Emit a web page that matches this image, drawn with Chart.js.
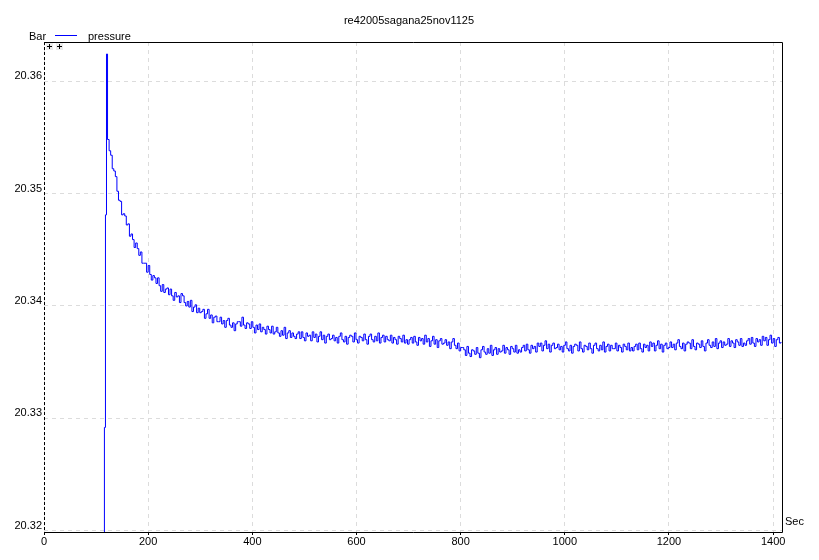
<!DOCTYPE html>
<html>
<head>
<meta charset="utf-8">
<script src="https://cdn.jsdelivr.net/npm/chart.js@4"></script>
<style>
  html, body { margin: 0; background: #fff; }
</style>
</head>
<body>
<canvas id="chart" width="819" height="560"></canvas>
<script>
const chartTitle = 're42005sagana25nov1125';
const seriesName = 'pressure';
const yUnit = 'Bar';
const xUnit = 'Sec';

const xTicks = [0, 200, 400, 600, 800, 1000, 1200, 1400];
const yTicks = [20.32, 20.33, 20.34, 20.35, 20.36];

// the jump when logging starts
const startTimes = [114, 116, 118, 120];
const startValues = [20.3190, 20.3292, 20.3481, 20.3624];

// after that one reading every 3 s, from 122 s on (12 per row = 36 s)
const sampleStart = 122;
const sampleStep = 3;
const pressure = [
  20.3548, 20.3538, 20.3534, 20.3522, 20.3520, 20.3515, 20.3502, 20.3494, 20.3493, 20.3481, 20.3482, 20.3480,
  20.3472, 20.3473, 20.3462, 20.3464, 20.3459, 20.3452, 20.3456, 20.3451, 20.3445, 20.3448, 20.3438, 20.3438,
  20.3438, 20.3430, 20.3436, 20.3428, 20.3423, 20.3427, 20.3425, 20.3420, 20.3425, 20.3418, 20.3413, 20.3419,
  20.3412, 20.3415, 20.3416, 20.3410, 20.3415, 20.3409, 20.3405, 20.3412, 20.3408, 20.3409, 20.3403, 20.3411,
  20.3409, 20.3403, 20.3400, 20.3404, 20.3399, 20.3405, 20.3395, 20.3399, 20.3401, 20.3394, 20.3398, 20.3394,
  20.3395, 20.3397, 20.3389, 20.3393, 20.3397, 20.3389, 20.3392, 20.3385, 20.3390, 20.3391, 20.3386, 20.3386,
  20.3390, 20.3384, 20.3387, 20.3381, 20.3387, 20.3389, 20.3383, 20.3381, 20.3385, 20.3378, 20.3384, 20.3386,
  20.3386, 20.3382, 20.3390, 20.3383, 20.3380, 20.3385, 20.3384, 20.3380, 20.3386, 20.3381, 20.3376, 20.3383,
  20.3379, 20.3384, 20.3377, 20.3381, 20.3379, 20.3375, 20.3382, 20.3379, 20.3376, 20.3382, 20.3375, 20.3377,
  20.3381, 20.3376, 20.3373, 20.3378, 20.3374, 20.3381, 20.3371, 20.3376, 20.3378, 20.3372, 20.3376, 20.3373,
  20.3371, 20.3375, 20.3377, 20.3371, 20.3377, 20.3372, 20.3369, 20.3376, 20.3373, 20.3374, 20.3369, 20.3377,
  20.3372, 20.3375, 20.3368, 20.3373, 20.3377, 20.3370, 20.3374, 20.3367, 20.3373, 20.3375, 20.3370, 20.3371,
  20.3374, 20.3369, 20.3372, 20.3367, 20.3373, 20.3376, 20.3370, 20.3368, 20.3373, 20.3366, 20.3372, 20.3374,
  20.3373, 20.3368, 20.3376, 20.3370, 20.3367, 20.3373, 20.3372, 20.3369, 20.3375, 20.3370, 20.3366, 20.3373,
  20.3375, 20.3370, 20.3368, 20.3373, 20.3369, 20.3376, 20.3367, 20.3372, 20.3374, 20.3368, 20.3373, 20.3370,
  20.3369, 20.3374, 20.3367, 20.3372, 20.3370, 20.3366, 20.3373, 20.3371, 20.3368, 20.3374, 20.3367, 20.3370,
  20.3366, 20.3370, 20.3372, 20.3367, 20.3373, 20.3368, 20.3365, 20.3372, 20.3369, 20.3371, 20.3366, 20.3374,
  20.3368, 20.3371, 20.3364, 20.3369, 20.3373, 20.3366, 20.3370, 20.3363, 20.3369, 20.3371, 20.3366, 20.3367,
  20.3370, 20.3365, 20.3368, 20.3362, 20.3368, 20.3371, 20.3365, 20.3362, 20.3367, 20.3360, 20.3363, 20.3363,
  20.3361, 20.3356, 20.3364, 20.3358, 20.3355, 20.3361, 20.3360, 20.3357, 20.3363, 20.3358, 20.3354, 20.3361,
  20.3364, 20.3359, 20.3357, 20.3362, 20.3358, 20.3365, 20.3356, 20.3361, 20.3363, 20.3357, 20.3362, 20.3359,
  20.3360, 20.3365, 20.3358, 20.3363, 20.3361, 20.3357, 20.3364, 20.3362, 20.3359, 20.3365, 20.3358, 20.3361,
  20.3359, 20.3363, 20.3365, 20.3360, 20.3366, 20.3361, 20.3358, 20.3365, 20.3362, 20.3364, 20.3359, 20.3367,
  20.3364, 20.3367, 20.3360, 20.3365, 20.3369, 20.3362, 20.3366, 20.3359, 20.3365, 20.3367, 20.3362, 20.3363,
  20.3366, 20.3361, 20.3364, 20.3359, 20.3365, 20.3368, 20.3362, 20.3360, 20.3365, 20.3358, 20.3364, 20.3366,
  20.3365, 20.3360, 20.3368, 20.3362, 20.3359, 20.3365, 20.3364, 20.3361, 20.3367, 20.3362, 20.3358, 20.3365,
  20.3367, 20.3362, 20.3360, 20.3365, 20.3361, 20.3368, 20.3359, 20.3364, 20.3366, 20.3360, 20.3365, 20.3362,
  20.3362, 20.3367, 20.3360, 20.3365, 20.3363, 20.3359, 20.3366, 20.3364, 20.3361, 20.3367, 20.3360, 20.3363,
  20.3360, 20.3364, 20.3366, 20.3361, 20.3367, 20.3362, 20.3359, 20.3366, 20.3363, 20.3365, 20.3360, 20.3368,
  20.3364, 20.3367, 20.3360, 20.3365, 20.3369, 20.3362, 20.3366, 20.3359, 20.3365, 20.3367, 20.3362, 20.3363,
  20.3368, 20.3363, 20.3366, 20.3361, 20.3367, 20.3370, 20.3364, 20.3362, 20.3367, 20.3360, 20.3366, 20.3368,
  20.3367, 20.3362, 20.3370, 20.3364, 20.3361, 20.3367, 20.3366, 20.3363, 20.3369, 20.3364, 20.3360, 20.3367,
  20.3370, 20.3365, 20.3363, 20.3368, 20.3364, 20.3371, 20.3362, 20.3367, 20.3369, 20.3363, 20.3368, 20.3365,
  20.3366, 20.3371, 20.3364, 20.3369, 20.3367, 20.3363, 20.3370, 20.3368, 20.3365, 20.3371, 20.3364, 20.3367,
  20.3365, 20.3369, 20.3371, 20.3366, 20.3372, 20.3367, 20.3364, 20.3371, 20.3368, 20.3370, 20.3365, 20.3373,
  20.3369, 20.3372, 20.3365, 20.3370, 20.3374, 20.3367, 20.3371, 20.3364, 20.3370, 20.3372, 20.3367, 20.3368,
];

const points = startTimes.map((t, i) => ({ x: t, y: startValues[i] }));
pressure.forEach((v, i) => points.push({ x: sampleStart + i * sampleStep, y: v }));

const FONT = '11px "Liberation Sans", Arial, sans-serif';
const lineColor = '#0000ff';
const gridColor = '#dcdcdc';

// frame, title, unit labels and the little legend, drawn by hand
const decorations = {
  id: 'decorations',
  beforeDatasetsDraw(chart) {
    const { ctx, chartArea: a } = chart;
    ctx.save();
    ctx.strokeStyle = '#000';
    ctx.lineWidth = 1;
    ctx.beginPath();
    ctx.moveTo(a.left, a.top + 0.5);
    ctx.lineTo(a.right + 0.5, a.top + 0.5);
    ctx.lineTo(a.right + 0.5, a.bottom + 0.5);
    ctx.lineTo(a.left, a.bottom + 0.5);
    ctx.stroke();
    ctx.setLineDash([3, 2]);
    ctx.beginPath();
    ctx.moveTo(a.left + 0.5, a.top);
    ctx.lineTo(a.left + 0.5, a.bottom + 1);
    ctx.stroke();
    ctx.restore();
  },
  afterDraw(chart) {
    const { ctx, chartArea: a } = chart;
    ctx.save();
    ctx.font = FONT;
    ctx.fillStyle = '#000';
    ctx.textBaseline = 'alphabetic';

    ctx.textAlign = 'center';
    ctx.fillText(chartTitle, 409, 24);

    ctx.textAlign = 'left';
    ctx.fillText(yUnit, 29, 40);
    ctx.fillText(seriesName, 88, 40);
    ctx.fillText(xUnit, a.right + 3, 525);

    ctx.strokeStyle = lineColor;
    ctx.beginPath();
    ctx.moveTo(55, 35.5);
    ctx.lineTo(77, 35.5);
    ctx.stroke();

    // the two "+" zoom buttons in the corner
    [46, 56].forEach(bx => {
      ctx.fillStyle = '#ececec';
      ctx.fillRect(bx, a.top + 1, 7, 7);
      ctx.strokeStyle = '#000';
      ctx.beginPath();
      ctx.moveTo(bx + 1, a.top + 4.5);
      ctx.lineTo(bx + 6, a.top + 4.5);
      ctx.moveTo(bx + 3.5, a.top + 2);
      ctx.lineTo(bx + 3.5, a.top + 7);
      ctx.stroke();
    });
    ctx.restore();
  }
};

new Chart(document.getElementById('chart'), {
  type: 'line',
  data: {
    datasets: [{
      label: seriesName,
      data: points,
      borderColor: lineColor,
      borderWidth: 1,
      pointRadius: 0,
      stepped: true,
      clip: 0,
    }]
  },
  options: {
    responsive: false,
    animation: false,
    layout: { padding: { top: 42, right: 37, left: 0, bottom: 0 } },
    plugins: {
      legend: { display: false },
      tooltip: { enabled: false },
      title: { display: false },
    },
    scales: {
      x: {
        type: 'linear',
        min: 0,
        max: 1417,
        afterBuildTicks: scale => { scale.ticks = xTicks.map(v => ({ value: v })); },
        afterFit: scale => { scale.height = 28; },
        ticks: {
          font: { family: '"Liberation Sans", Arial, sans-serif', size: 11 },
          color: '#000',
          padding: 0,
          maxRotation: 0,
          callback: v => String(v),
        },
        grid: { color: gridColor, tickColor: '#000', tickLength: 3 },
        border: { display: false, dash: [4, 4] },
      },
      y: {
        type: 'linear',
        min: 20.3199,
        max: 20.36347,
        afterBuildTicks: scale => { scale.ticks = yTicks.map(v => ({ value: v })); },
        afterFit: scale => { scale.width = 44; },
        ticks: {
          font: { family: '"Liberation Sans", Arial, sans-serif', size: 11 },
          color: '#000',
          padding: 2,
          labelOffset: -5,
          callback: v => v.toFixed(2),
        },
        grid: { color: gridColor, drawTicks: false },
        border: { display: false, dash: [4, 4] },
      },
    },
  },
  plugins: [decorations],
});
</script>
</body>
</html>
